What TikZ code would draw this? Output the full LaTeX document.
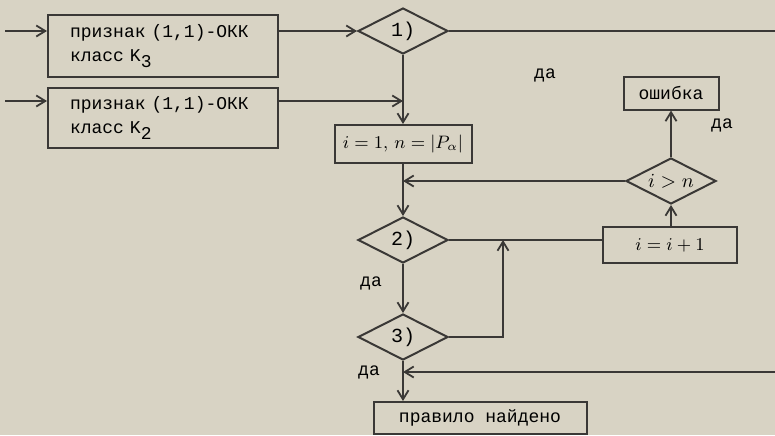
\documentclass[tikz,border=0pt]{standalone}
\usepackage{fontspec}
\setmonofont{Liberation Mono}
\usetikzlibrary{shapes.geometric, arrows.meta}
\definecolor{paper}{RGB}{216,211,196}
\definecolor{ink}{RGB}{58,56,54}
\tikzset{
  blockbox/.style={draw=ink, line width=1pt, inner sep=0pt, align=center},
  condbox/.style={draw=ink, line width=1pt, diamond, aspect=2, inner sep=0pt,
    minimum width=45pt, minimum height=23pt, font=\ttfamily\fontsize{10}{12}\selectfont},
  flowline/.style={draw=ink, line width=0.9pt}
}
\begin{document}
\begin{tikzpicture}[x=0.5pt, y=-0.5pt, >={Straight Barb[length=4.5pt,width=5.5pt]},
    font=\ttfamily\fontsize{9}{12}\selectfont]
				% Bildbereich
				\useasboundingbox (0,0) rectangle (775,435);
				\fill[paper] (0,0) rectangle (775,435);
				% Bloecke
				\node[blockbox, minimum width=115pt, minimum height=31pt, text width=93pt, inner xsep=11pt, align=left] (k3) at (163,46)
				  {признак (1,1)-ОКК\\класс K\raisebox{-0.7ex}{3}};
				\node[blockbox, minimum width=115pt, minimum height=30pt, text width=93pt, inner xsep=11pt, align=left] (k2) at (163,118)
				  {признак (1,1)-ОКК\\класс K\raisebox{-0.7ex}{2}};
				\node[condbox] (d1) at (403,31) {1)};
				\node[blockbox, minimum width=68.5pt, minimum height=19pt] (init) at (403,144) {$i = 1,\, n=|P_\alpha|$};
				\node[condbox] (dgt) at (671,181) {$i>n$};
				\node[blockbox, minimum width=47.5pt, minimum height=16.5pt] (err) at (671,93) {ошибка};
				\node[blockbox, minimum width=67pt, minimum height=18pt] (inc) at (670,245) {$i = i+1$};
				\node[condbox] (d2) at (403,240) {2)};
				\node[condbox] (d3) at (403,337) {3)};
				\node[blockbox, minimum width=106.5pt, minimum height=16pt] (found) at (480,418) {правило найдено};
				% Freie Enden
				\coordinate (in3) at (5,31);
				\coordinate (in2) at (5,101);
				\coordinate (out1) at (775,31);
				\coordinate (in4) at (775,372);
				\coordinate (j2) at (503,240);
				% Verbindungen
				\draw[flowline, ->] (in3) -- (in3 -| k3.west);
				\draw[flowline, ->] (k3.east |- in3) -- (d1.west);
				\draw[flowline, ->] (in2) -- (in2 -| k2.west);
				\draw[flowline, ->] (k2.east |- in2) -- (in2 -| d1.south);
				\draw[flowline] (d1.east) -- (out1);
				\draw[flowline, ->] (d1.south) -- (init.north);
				\draw[flowline, ->] (init.south) -- (d2.north);
				\draw[flowline, ->] (dgt.west) -- (dgt.west -| init.south);
				\draw[flowline, ->] (dgt.north) -- (err.south);
				\draw[flowline, ->] (inc.north -| dgt.south) -- (dgt.south);
				\draw[flowline] (d2.east) -- (d2.east -| inc.west);
				\draw[flowline, ->] (d2.south) -- (d3.north);
				\draw[flowline, ->] (d3.east) -| (j2);
				\draw[flowline, ->] (d3.south) -- (d3.south |- found.north);
				\draw[flowline, ->] (in4) -- (in4 -| d3.south);
				% Beschriftung
				\node (da1) at (545,75) {да};
				\node (da2) at (722,125) {да};
				\node (da3) at (371,283) {да};
				\node (da4) at (369,372) {да};
		\end{tikzpicture}
\end{document}
